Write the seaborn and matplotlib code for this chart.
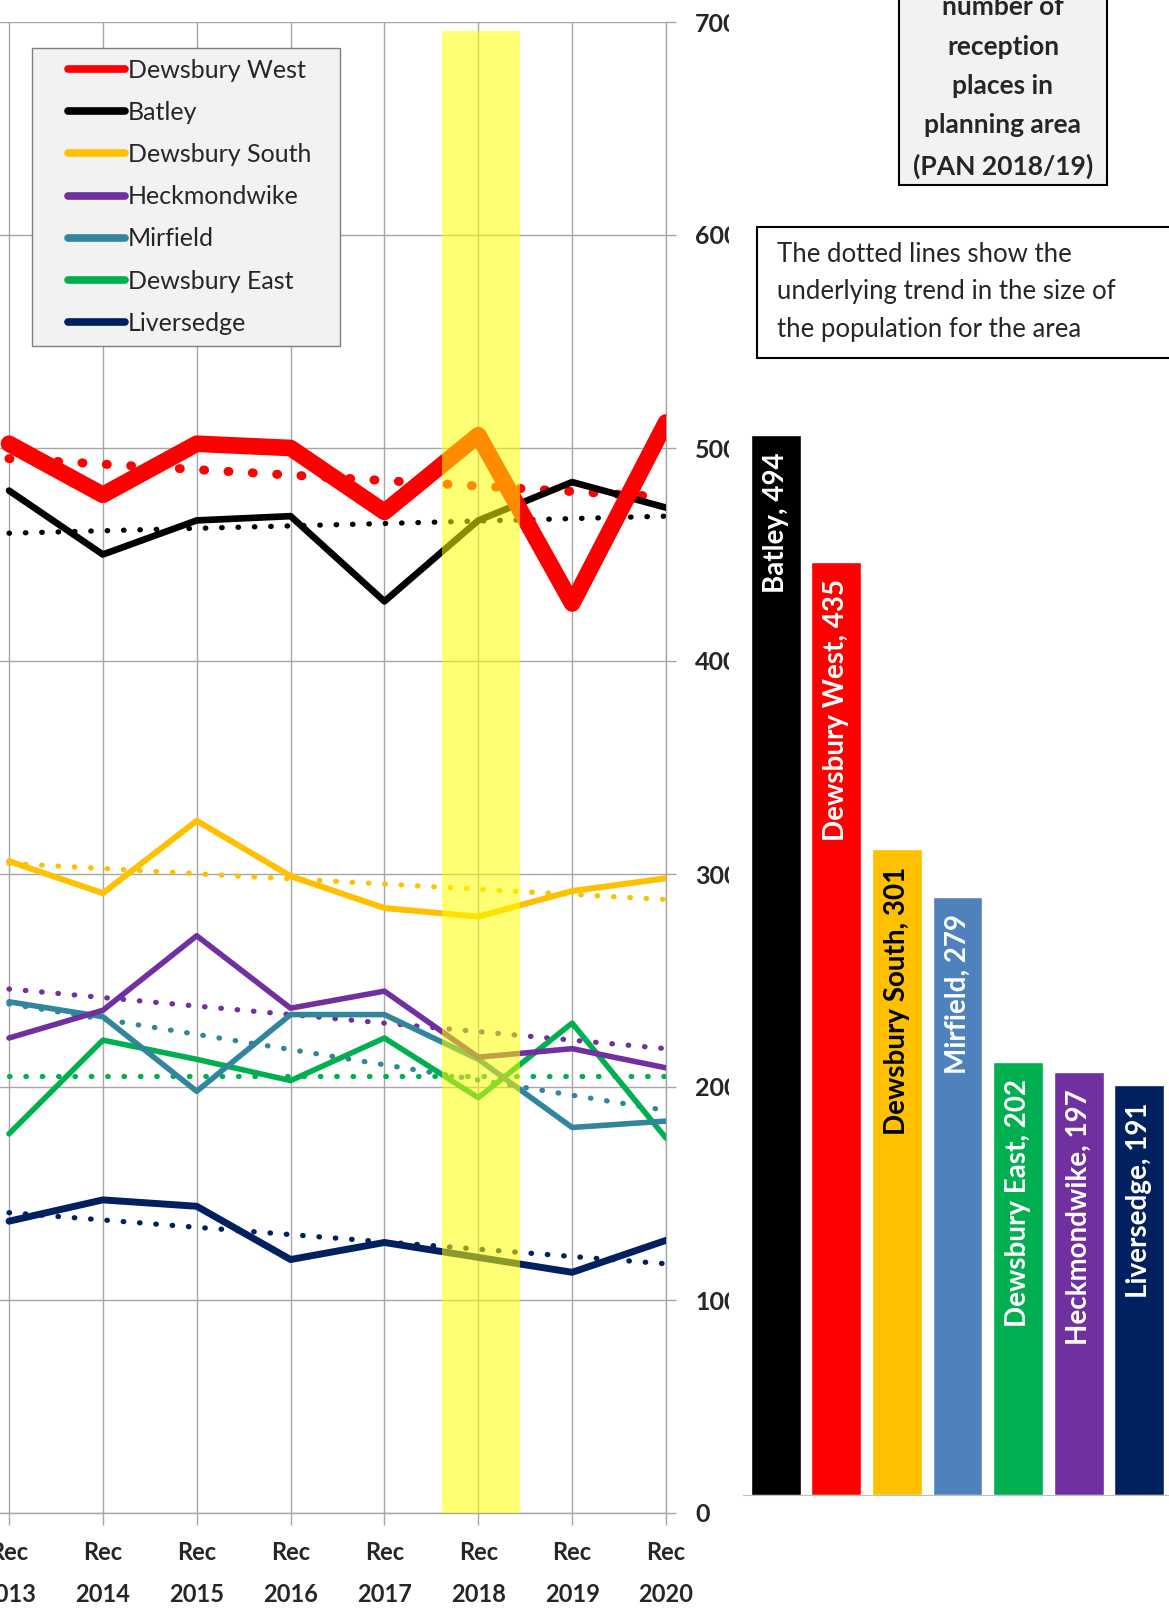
import matplotlib
matplotlib.use("Agg")
import matplotlib.pyplot as plt
import seaborn as sns
from matplotlib.lines import Line2D
from matplotlib.patches import Rectangle
from matplotlib.legend_handler import HandlerLine2D

# Line chart data (reception intake per planning area)
years = ["Rec\n2013", "Rec\n2014", "Rec\n2015", "Rec\n2016",
         "Rec\n2017", "Rec\n2018", "Rec\n2019", "Rec\n2020"]
areas = ["Dewsbury West", "Batley", "Dewsbury South", "Heckmondwike",
         "Mirfield", "Dewsbury East", "Liversedge"]
line_colors = ["#FF0000", "#000000", "#FFC000", "#7030A0",
               "#31859C", "#00B050", "#002060"]
line_widths = [12, 4.8, 4.3, 4, 4, 4, 5]

dewsbury_west = [502, 478, 502, 500, 470, 506, 427, 512]
batley = [480, 450, 466, 468, 428, 466, 484, 472]
dewsbury_south = [306, 291, 325, 299, 284, 280, 292, 298]
heckmondwike = [223, 236, 271, 237, 245, 214, 218, 209]
mirfield = [240, 233, 198, 234, 234, 213, 181, 184]
dewsbury_east = [178, 222, 213, 203, 223, 195, 230, 176]
liversedge = [137, 147, 144, 119, 127, 120, 113, 128]
series = [dewsbury_west, batley, dewsbury_south, heckmondwike,
          mirfield, dewsbury_east, liversedge]

# underlying trend (dotted), value at Rec 2013 and Rec 2020
trend_start = [495, 460, 305, 246, 239, 205, 141]
trend_end = [477, 468, 288, 218, 189, 205, 117]

# Bar chart data (PAN 2018/19)
bar_areas = ["Batley", "Dewsbury West", "Dewsbury South", "Mirfield",
             "Dewsbury East", "Heckmondwike", "Liversedge"]
pan_places = [494, 435, 301, 279, 202, 197, 191]
bar_colors = ["#000000", "#FF0000", "#FFC000", "#4F81BD",
              "#00B050", "#7030A0", "#002060"]
bar_text_colors = ["white", "white", "black", "white", "white", "white", "white"]

highlight_idx = 5  # Rec 2018
highlight_top = 696

sns.set_style("white")
plt.rcParams["font.family"] = ["Lato", "DejaVu Sans"]

W, H = 1169, 1611
fig = plt.figure(figsize=(W / 100, H / 100), dpi=100)

# -------------------- line chart --------------------
ax = fig.add_axes([0, 98 / H, 666 / W, 1491 / H])
x_pos = list(range(len(years)))

for i in reversed(range(len(areas))):
    sns.lineplot(x=[x_pos[0], x_pos[-1]], y=[trend_start[i], trend_end[i]],
                 ax=ax, color=line_colors[i],
                 lw=6.5 if i == 0 else 3.8,
                 linestyle=(0, (0.1, 2.6 if i == 0 else 3.0)),
                 dash_capstyle="round", zorder=2)
for i in reversed(range(len(areas))):
    sns.lineplot(x=x_pos, y=series[i], ax=ax, color=line_colors[i],
                 lw=line_widths[i], zorder=3)

ax.axvspan(highlight_idx - 0.39, highlight_idx + 0.44,
           ymax=highlight_top / 700, color="#FFFF00", alpha=0.55,
           lw=0, zorder=4)

ax.set_xlim(-0.096, 7)
ax.set_ylim(0, 700)
ax.set_xticks(x_pos)
ax.set_xticklabels(years, fontsize=17, fontweight="bold", linespacing=1.95)
ax.set_yticks(range(0, 701, 100))
ax.yaxis.tick_right()
ax.tick_params(axis="y", labelsize=18, length=7, width=1, color="#A6A6A6",
               pad=14, labelright=True, labelleft=False, right=True)
for lab in ax.get_yticklabels():
    lab.set_fontweight("bold")
ax.tick_params(axis="x", length=8.5, width=1, color="#A6A6A6", pad=12,
               bottom=True)
ax.grid(True, color="#A6A6A6", lw=1)
for side in ["left", "top"]:
    ax.spines[side].set_visible(False)
for side in ["right", "bottom"]:
    ax.spines[side].set_color("#A6A6A6")
    ax.spines[side].set_linewidth(1)
ax.set_xlabel("")
ax.set_ylabel("")
ax.set_zorder(1)

handles = [Line2D([0], [0], color=c, lw=5.5) for c in line_colors]
leg = ax.legend(handles, areas, loc="upper left",
                bbox_to_anchor=(32 / W, 1 - 48 / H - 297 / H, 308 / W, 297 / H),
                bbox_transform=fig.transFigure, borderaxespad=0,
                mode="expand", fontsize=18, handlelength=3.3,
                handletextpad=0.12, labelspacing=0.77, borderpad=0.42,
                fancybox=False, framealpha=1, facecolor="#F2F2F2",
                edgecolor="#7F7F7F",
                handler_map={Line2D: HandlerLine2D(xpad=1.02)})
leg.get_frame().set_linewidth(1)
leg.set_zorder(10)

# -------------------- bar chart --------------------
bx = fig.add_axes([729 / W, 116 / H, 440 / W, 1495 / H])
bx.set_facecolor("white")
bx.set_zorder(2)
sns.barplot(x=bar_areas, y=pan_places, hue=bar_areas, palette=bar_colors,
            width=0.82, legend=False, saturation=1, ax=bx)
bx.set_xlim(-0.77, 6.49)
bx.set_ylim(0, 697)
for i, (name, v) in enumerate(zip(bar_areas, pan_places)):
    bx.text(i, v - 8, f"{name}, {v}", rotation=90, ha="center", va="top",
            fontsize=20, fontweight="bold", color=bar_text_colors[i])
bx.set_xticks([])
bx.set_yticks([])
bx.set_xlabel("")
bx.set_ylabel("")
for side in ["left", "top", "right"]:
    bx.spines[side].set_visible(False)
bx.spines["bottom"].set_color("#BFBFBF")
bx.spines["bottom"].set_bounds(-0.54, 6.49)

# -------------------- text boxes --------------------
fig.patches.append(Rectangle((899 / W, 1 - 185 / H), 208 / W, 200 / H,
                             transform=fig.transFigure, facecolor="#F2F2F2",
                             edgecolor="black", lw=1.5, zorder=5))
fig.text(1003 / W, 1 - 87 / H,
         "number of\nreception\nplaces in\nplanning area\n(PAN 2018/19)",
         ha="center", va="center", fontsize=19, fontweight="bold",
         linespacing=1.77, zorder=6)

fig.patches.append(Rectangle((757 / W, 1 - 358 / H), 420 / W, 131 / H,
                             transform=fig.transFigure, facecolor="white",
                             edgecolor="black", lw=1.5, zorder=5))
fig.text(777 / W, 1 - 292 / H,
         "The dotted lines show the\nunderlying trend in the size of\n"
         "the population for the area",
         ha="left", va="center", fontsize=18.5, linespacing=1.62, zorder=6)

fig.savefig("out.png", dpi=100)
